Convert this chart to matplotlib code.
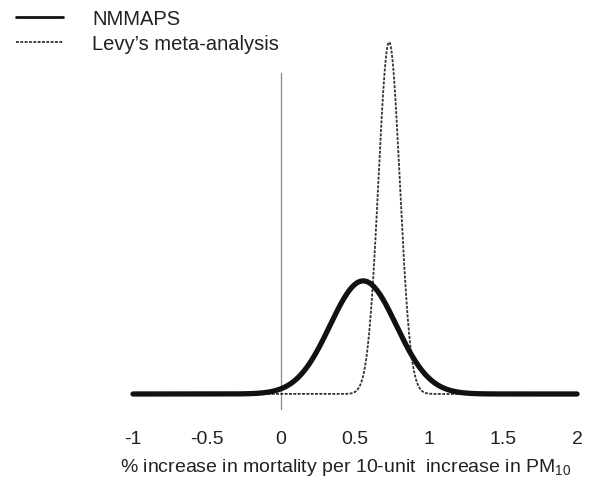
import numpy as np
import matplotlib
matplotlib.use("Agg")
import matplotlib.pyplot as plt

# Posterior distributions (normal)
series_names = ["NMMAPS", "Levy\u2019s meta-analysis"]
means = [0.555, 0.73]
sds = [0.224, 0.072]
x_ticks = [-1, -0.5, 0, 0.5, 1, 1.5, 2]
x_ticklabels = ["-1", "-0.5", "0", "0.5", "1", "1.5", "2"]
xlabel = "% increase in mortality per 10-unit  increase in PM$_{10}$"

plt.rcParams['font.family'] = ['Liberation Sans', 'DejaVu Sans']
plt.rcParams['mathtext.fontset'] = 'custom'
plt.rcParams['mathtext.rm'] = 'Liberation Sans'

fig = plt.figure(figsize=(5.89, 4.81), dpi=100)
ax = fig.add_axes([0.2133, 0.1128, 0.779, 0.8186])

x = np.linspace(-1, 2, 1201)

def npdf(x, m, s):
    return np.exp(-0.5 * ((x - m) / s) ** 2) / (s * np.sqrt(2 * np.pi))

ylo, yhi = -0.5, 5.7
ax.axvline(0, ymin=(-0.236 - ylo) / (yhi - ylo), ymax=(5.055 - ylo) / (yhi - ylo),
           color="#888888", lw=0.9, zorder=1)

l2, = ax.plot(x, npdf(x, means[1], sds[1]), color="#333333", lw=1.3,
              linestyle=(0, (1.6, 0.8)), zorder=2, label=series_names[1])
l1, = ax.plot(x, npdf(x, means[0], sds[0]), color="#111111", lw=3.8,
              solid_capstyle="round", zorder=3, label=series_names[0])

ax.set_xlim(-1.05, 2.05)
ax.set_ylim(ylo, yhi)
ax.set_xticks(x_ticks)
ax.set_xticklabels(x_ticklabels, fontsize=14, color="#222222")
ax.tick_params(axis="x", length=0, pad=3)
ax.set_yticks([])
for s in ax.spines.values():
    s.set_visible(False)
ax.set_xlabel(xlabel, fontsize=14, color="#222222")
ax.xaxis.set_label_coords(0.48, -0.078)

leg = fig.legend(handles=[l1, l2], labels=series_names, loc="upper left",
                 bbox_to_anchor=(0.004, 1.008), frameon=False, fontsize=14.5,
                 handlelength=2.3, handletextpad=1.45, labelspacing=0.3,
                 borderaxespad=0.3)
leg.legend_handles[0].set_linewidth(2.0)
leg.legend_handles[1].set_linewidth(1.3)
for t in leg.get_texts():
    t.set_color("#222222")

fig.savefig("out.png", dpi=100)
